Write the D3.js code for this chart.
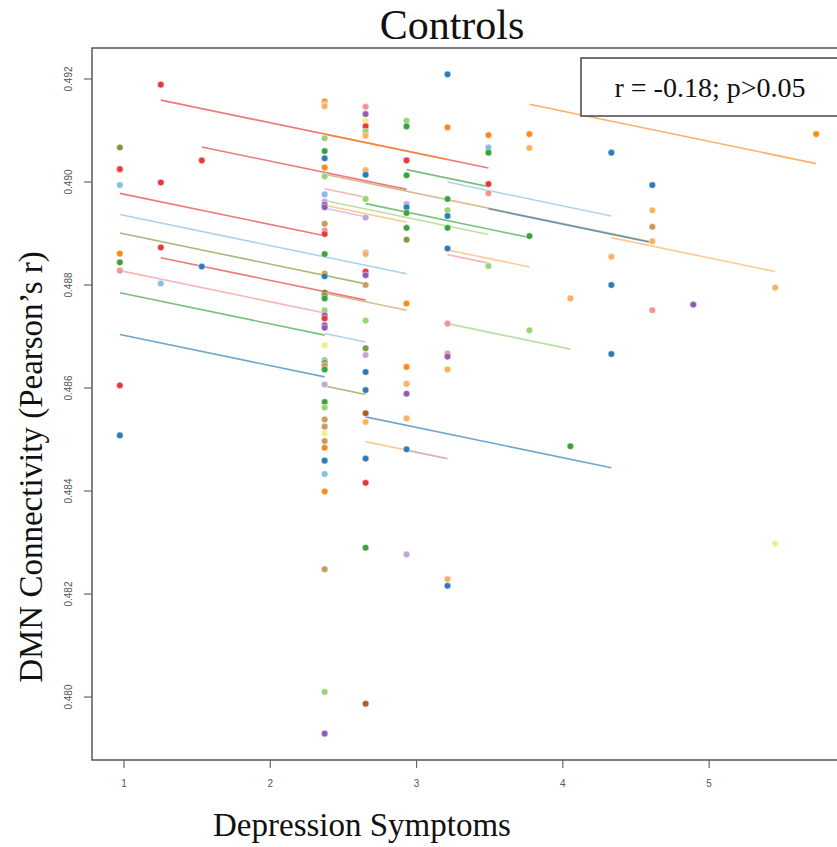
<!DOCTYPE html>
<html>
<head>
<meta charset="utf-8">
<script src="https://cdn.jsdelivr.net/npm/d3@7"></script>
<style>
  body { margin: 0; background: #fff; }
  svg { display: block; }
  .tick text { font-family: "Liberation Sans", Arial, sans-serif; font-size: 10px; fill: #555; }
  .tick line { stroke: #666; stroke-width: 1.2; }
  .serif { font-family: "Liberation Serif", "Times New Roman", serif; fill: #111; }
</style>
</head>
<body>
<div id="chart"></div>
<script>
// depression symptom levels that were sampled
var levels = [0.975, 1.255, 1.535, 2.375, 2.655, 2.935, 3.215, 3.495, 3.775, 4.055, 4.335, 4.615, 4.895, 5.455, 5.735];

// DMN connectivity values at each level, and which subject each one belongs to
var levelValues = [
  [0.49066, 0.49024, 0.48993, 0.48860, 0.48843, 0.48827, 0.48604, 0.48507],
  [0.49188, 0.48998, 0.48872, 0.48802],
  [0.49041, 0.48835],
  [0.49155, 0.49150, 0.49146, 0.49084, 0.49059, 0.49045, 0.49027, 0.49010, 0.48975, 0.48961,
   0.48955, 0.48950, 0.48918, 0.48905, 0.48898, 0.48859, 0.48821, 0.48816, 0.48784, 0.48779,
   0.48773, 0.48750, 0.48740, 0.48734, 0.48721, 0.48716, 0.48682, 0.48653, 0.48648, 0.48643,
   0.48635, 0.48606, 0.48572, 0.48561, 0.48538, 0.48524, 0.48511, 0.48496, 0.48483, 0.48458,
   0.48432, 0.48398, 0.48247, 0.48009, 0.47928],
  [0.49145, 0.49131, 0.49118, 0.49107, 0.49097, 0.49089, 0.49022, 0.49013, 0.48966, 0.48930,
   0.48862, 0.48859, 0.48825, 0.48818, 0.48799, 0.48730, 0.48676, 0.48663, 0.48630, 0.48595,
   0.48550, 0.48533, 0.48462, 0.48415, 0.48289, 0.47986],
  [0.49118, 0.49107, 0.49041, 0.49012, 0.48956, 0.48950, 0.48939, 0.48910, 0.48887, 0.48763,
   0.48640, 0.48607, 0.48588, 0.48540, 0.48480, 0.48276],
  [0.49208, 0.49105, 0.48966, 0.48944, 0.48933, 0.48910, 0.48870, 0.48724, 0.48666, 0.48660,
   0.48635, 0.48228, 0.48215],
  [0.49090, 0.49066, 0.49056, 0.48995, 0.48977, 0.48836],
  [0.49092, 0.49065, 0.48894, 0.48711],
  [0.48773, 0.48486],
  [0.49056, 0.48854, 0.48799, 0.48665],
  [0.48993, 0.48944, 0.48912, 0.48884, 0.48750],
  [0.48761],
  [0.48794, 0.48297],
  [0.49092]
];
var levelSubjects = [
  "KAECGBAF",
  "AAAE",
  "AF",
  "CDDHGFCHEJIILBAGCFMKGHIAIINEKLGJGHLLNLCFECLHI",
  "BINAHDDFHJEDAILHKJFFMDFAGM",
  "HGAGJFGGKCCDIDFJ",
  "FCGHFGFBBIDDF",
  "CEGABH",
  "CDGH",
  "DG",
  "FDFF",
  "FDLDB",
  "I",
  "DN",
  "C"
];

var subjects = "ABCDEFGHIJKLMN".split("");

// per-subject fitted lines, all sharing one slope
var fitSlope = -0.000588;
var lineSubject = ["A", "A", "A", "E", "K", "A", "B", "G", "F", "C", "L", "B", "G", "E", "H",
                   "G", "D", "J", "F", "D", "D", "B", "C", "L", "E", "K", "F", "D", "J", "H"];
var lineFrom  = [1.255, 1.535, 0.975, 0.975, 0.975, 1.255, 0.975, 0.975, 0.975, 2.375, 2.375, 2.375, 2.935, 3.215, 2.375,
                 2.655, 2.375, 2.375, 3.495, 4.335, 3.215, 3.215, 3.775, 2.375, 2.375, 2.375, 2.655, 2.655, 2.935, 3.215];
var lineTo    = [3.495, 2.935, 2.375, 2.935, 2.655, 2.655, 2.375, 2.375, 2.375, 3.215, 4.615, 2.655, 3.495, 4.335, 3.495,
                 3.775, 2.935, 2.655, 4.615, 5.455, 3.775, 3.495, 5.735, 2.935, 2.655, 2.655, 4.335, 3.215, 3.215, 4.055];
var lineStart = [0.49158, 0.49067, 0.48977, 0.48936, 0.48900, 0.48852, 0.48827, 0.48784, 0.48703, 0.49092, 0.49014, 0.48986, 0.49023, 0.48999, 0.48963,
                 0.48957, 0.48954, 0.48948, 0.48947, 0.48891, 0.48867, 0.48858, 0.49150, 0.48783, 0.48705, 0.48603, 0.48543, 0.48495, 0.48478, 0.48724];

var xTicks = [1, 2, 3, 4, 5];
var yTicks = [0.480, 0.482, 0.484, 0.486, 0.488, 0.490, 0.492];
var statText = "r = -0.18; p>0.05";

var width = 837, height = 847;
var plot = {left: 92, right: 844, top: 48, bottom: 760};

var points = [];
levels.forEach(function(lv, i) {
  levelValues[i].forEach(function(v, j) {
    points.push({x: lv, y: v, s: levelSubjects[i][j]});
  });
});

var fits = lineSubject.map(function(s, i) {
  return {s: s, x0: lineFrom[i], x1: lineTo[i],
          y0: lineStart[i], y1: lineStart[i] + fitSlope * (lineTo[i] - lineFrom[i])};
});

// R style: pad the data range by 4% each side
function pad(ext) {
  var span = ext[1] - ext[0];
  return [ext[0] - 0.04 * span, ext[1] + 0.04 * span];
}

var x = d3.scaleLinear()
  .domain(pad(d3.extent(points, function(d) { return d.x; })))
  .range([plot.left, plot.right]);

var y = d3.scaleLinear()
  .domain(pad(d3.extent(points, function(d) { return d.y; })))
  .range([plot.bottom, plot.top]);

var color = d3.scaleOrdinal()
  .domain(subjects)
  .range(["#e8383b", "#f39494", "#fb8a1e", "#fdb061", "#86bde0", "#2c7bb6", "#38a33a",
          "#97d474", "#8e5cb5", "#c4a3d8", "#7b9a3c", "#c89a5c", "#b15928", "#f2ec8a"]);

var svg = d3.select("#chart").append("svg")
  .attr("width", width)
  .attr("height", height);

// fitted lines
svg.append("g").selectAll("line")
  .data(fits)
  .enter().append("line")
  .attr("x1", function(d) { return x(d.x0); })
  .attr("x2", function(d) { return x(d.x1); })
  .attr("y1", function(d) { return y(d.y0); })
  .attr("y2", function(d) { return y(d.y1); })
  .attr("stroke", function(d) { return color(d.s); })
  .attr("stroke-width", 1.6)
  .attr("stroke-opacity", 0.68);

// subject points
svg.append("g").selectAll("circle")
  .data(points)
  .enter().append("circle")
  .attr("cx", function(d) { return x(d.x); })
  .attr("cy", function(d) { return y(d.y); })
  .attr("r", 3.3)
  .attr("fill", function(d) { return color(d.s); })
  .attr("stroke", "#fff")
  .attr("stroke-opacity", 0.6)
  .attr("stroke-width", 0.8);

// plot frame
svg.append("rect")
  .attr("x", plot.left)
  .attr("y", plot.top)
  .attr("width", plot.right - plot.left)
  .attr("height", plot.bottom - plot.top)
  .attr("fill", "none")
  .attr("stroke", "#555")
  .attr("stroke-width", 1.5);

var xAxis = svg.append("g")
  .attr("transform", "translate(0," + plot.bottom + ")")
  .call(d3.axisBottom(x).tickValues(xTicks).tickSize(8).tickPadding(12).tickFormat(d3.format("d")));
xAxis.select(".domain").remove();

var yAxis = svg.append("g")
  .attr("transform", "translate(" + plot.left + ",0)")
  .call(d3.axisLeft(y).tickValues(yTicks).tickSize(8).tickFormat(d3.format(".3f")));
yAxis.select(".domain").remove();
yAxis.selectAll(".tick text")
  .attr("text-anchor", "middle")
  .attr("x", null).attr("dy", null)
  .attr("transform", "translate(-20,0) rotate(-90)");

// stat box
svg.append("rect")
  .attr("x", 581).attr("y", 58)
  .attr("width", 280).attr("height", 58)
  .attr("fill", "#fff")
  .attr("stroke", "#444")
  .attr("stroke-width", 1.5);
svg.append("text").attr("class", "serif")
  .attr("x", 710).attr("y", 97)
  .attr("text-anchor", "middle")
  .style("font-size", "28px")
  .text(statText);

svg.append("text").attr("class", "serif")
  .attr("x", 452).attr("y", 39)
  .attr("text-anchor", "middle")
  .style("font-size", "42px")
  .text("Controls");

svg.append("text").attr("class", "serif")
  .attr("x", 362).attr("y", 836)
  .attr("text-anchor", "middle")
  .style("font-size", "33px")
  .text("Depression Symptoms");

svg.append("text").attr("class", "serif")
  .attr("transform", "translate(42,467) rotate(-90)")
  .attr("text-anchor", "middle")
  .style("font-size", "33px")
  .text("DMN Connectivity (Pearson\u2019s r)");
</script>
</body>
</html>
